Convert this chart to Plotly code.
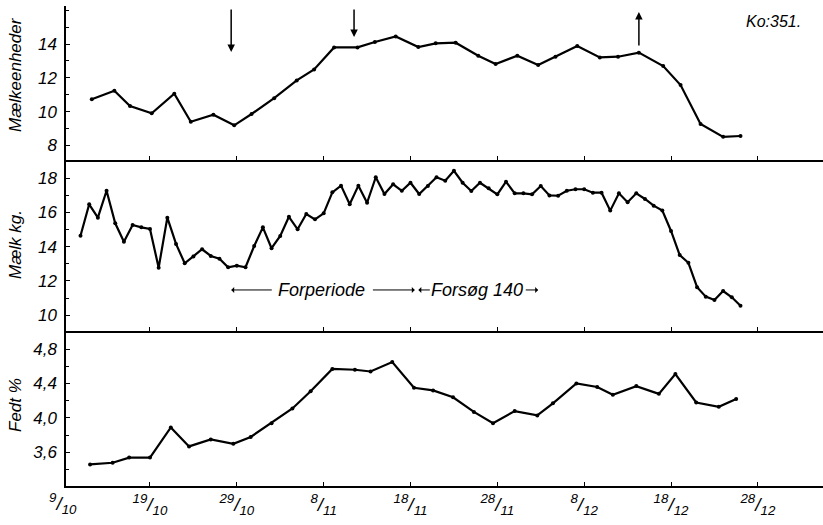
import plotly.graph_objects as go

# ---------------- data ----------------
# x positions are days after 9 October
tick_days = [0, 10, 20, 30, 40, 50, 60, 70, 80]
tick_labels = ["9/10", "19/10", "29/10", "8/11", "18/11", "28/11", "8/12", "18/12", "28/12"]

units_days = [3.3, 5.9, 7.7, 10.2, 12.8, 14.7, 17.3, 19.7, 21.7, 24.3, 26.9, 28.9, 31.2,
              33.9, 35.9, 38.3, 40.9, 42.9, 45.2, 47.8, 49.8, 52.3, 54.7, 56.7, 59.2,
              61.8, 63.9, 66.3, 69.1, 71.1, 73.4, 76.0, 78.0]
units_vals = [10.73, 11.24, 10.33, 9.90, 11.06, 9.40, 9.82, 9.19, 9.86, 10.80, 11.85, 12.50,
              13.80, 13.80, 14.12, 14.45, 13.82, 14.04, 14.08, 13.31, 12.82, 13.31, 12.76,
              13.25, 13.88, 13.21, 13.25, 13.49, 12.70, 11.57, 9.27, 8.51, 8.56]

milk_days = list(range(2, 79))
milk_vals = [14.64, 16.48, 15.70, 17.27, 15.37, 14.29, 15.27, 15.13, 15.04, 12.77, 15.70,
             14.16, 13.03, 13.42, 13.85, 13.46, 13.30, 12.80, 12.89, 12.80, 14.04, 15.13,
             13.91, 14.63, 15.75, 15.02, 15.91,
             15.60, 15.95, 17.18, 17.57, 16.48, 17.57, 16.57, 18.06, 17.08, 17.65, 17.27,
             17.74, 17.08, 17.55, 18.06, 17.86, 18.44, 17.74, 17.26, 17.74, 17.42, 17.06,
             17.80, 17.12, 17.12, 17.06, 17.55, 17.00,
             16.98, 17.27, 17.36, 17.36, 17.16, 17.16, 16.11, 17.12, 16.60, 17.12, 16.79,
             16.40, 16.11, 14.92, 13.51, 13.06, 11.63, 11.08, 10.88, 11.41, 11.04, 10.55]

fat_days = [3.1, 5.7, 7.6, 10.0, 12.4, 14.5, 17.0, 19.6, 21.6, 24.0, 26.4, 28.5, 31.0,
            33.6, 35.4, 37.9, 40.4, 42.6, 44.9, 47.3, 49.5, 52.0, 54.6, 56.4, 59.1,
            61.5, 63.3, 66.0, 68.6, 70.5, 72.9, 75.5, 77.5]
fat_vals = [3.46, 3.48, 3.54, 3.54, 3.89, 3.67, 3.75, 3.70, 3.78, 3.94, 4.11, 4.31, 4.57,
            4.56, 4.54, 4.65, 4.35, 4.32, 4.24, 4.07, 3.94, 4.08, 4.03, 4.17, 4.40, 4.36,
            4.27, 4.37, 4.28, 4.51, 4.18, 4.13, 4.22]

units_ticks = [8, 10, 12, 14]
milk_ticks = [10, 12, 14, 16, 18]
fat_ticks = [3.6, 4.0, 4.4, 4.8]
fat_ticktext = ["3,6", "4,0", "4,4", "4,8"]

# ---------------- figure ----------------
FONT = "Liberation Sans"
line = dict(color="black", width=2.2)
marker = dict(color="black", size=4)

fig = go.Figure()
fig.add_trace(go.Scatter(x=units_days, y=units_vals, mode="lines+markers", line=line,
                         marker=marker, xaxis="x", yaxis="y", showlegend=False))
fig.add_trace(go.Scatter(x=milk_days, y=milk_vals, mode="lines+markers", line=line,
                         marker=marker, xaxis="x2", yaxis="y2", showlegend=False))
fig.add_trace(go.Scatter(x=fat_days, y=fat_vals, mode="lines+markers", line=line,
                         marker=marker, xaxis="x3", yaxis="y3", showlegend=False))


def frac(lbl):
    a, b = lbl.split("/")
    return f"<i><sup>{a}</sup>/<sub>{b}</sub></i>"


xr = [0.33, 87.5]
common_x = dict(range=xr, showgrid=False, zeroline=False, showline=True,
                linecolor="black", linewidth=2, tickvals=tick_days,
                ticks="inside", ticklen=4, tickcolor="black", automargin=False)
common_y = dict(showgrid=False, zeroline=False, showline=True, linecolor="black",
                linewidth=1.5, ticks="inside", ticklen=4, tickcolor="black",
                automargin=False, ticklabelstandoff=4,
                tickfont=dict(family=FONT, size=17, color="black"))

d_bot = (486 - 331) / 480
d_mid = (486 - 160) / 480

fig.update_layout(
    template="none",
    width=823, height=525,
    margin=dict(l=66, r=0, t=6, b=39, pad=0),
    paper_bgcolor="white", plot_bgcolor="white",
    font=dict(family=FONT, color="black"),
    xaxis=dict(**common_x, anchor="y", matches="x3", showticklabels=False),
    xaxis2=dict(**common_x, anchor="y2", matches="x3", showticklabels=False),
    xaxis3=dict(**common_x, anchor="y3",
                ticktext=[frac(t) for t in tick_labels],
                tickfont=dict(family=FONT, size=19, color="black")),
    yaxis=dict(**common_y, domain=[d_mid, 1], range=[7.14, 16.25], anchor="x",
               tickvals=units_ticks, ticktext=[f"<i>{v}</i>" for v in units_ticks],
               minor=dict(dtick=1, ticks="inside", ticklen=3, tickcolor="black")),
    yaxis2=dict(**common_y, domain=[d_bot, d_mid], range=[9.07, 19.07], anchor="x2",
                tickvals=milk_ticks, ticktext=[f"<i>{v}</i>" for v in milk_ticks],
                minor=dict(dtick=1, ticks="inside", ticklen=3, tickcolor="black")),
    yaxis3=dict(**common_y, domain=[0, d_bot], range=[3.21, 5.01], anchor="x3",
                tickvals=fat_ticks, ticktext=[f"<i>{t}</i>" for t in fat_ticktext],
                minor=dict(dtick=0.2, ticks="inside", ticklen=3, tickcolor="black")),
)

anns = []
# first date label lies just left of the plotted range: place it from the axis range
frac0 = (tick_days[0] - xr[0]) / (xr[1] - xr[0])
anns.append(dict(text=frac(tick_labels[0]), xref="paper", yref="paper",
                 x=frac0, y=-0.005, xanchor="center", yanchor="top", showarrow=False,
                 font=dict(family=FONT, size=19, color="black")))

# axis titles
for txt, py in [("Mælkeenheder", 75), ("Mælk kg.", 245), ("Fedt %", 405)]:
    anns.append(dict(text=f"<i>{txt}</i>", xref="paper", yref="paper",
                     x=(15 - 66) / 757, y=(486 - py) / 480, textangle=-90,
                     showarrow=False, font=dict(family=FONT, size=17, color="black"),
                     xanchor="center", yanchor="middle"))
anns.append(dict(text="<i>Ko:351.</i>", xref="paper", yref="paper",
                 x=(773 - 66) / 757, y=(486 - 22) / 480, showarrow=False,
                 xanchor="center", yanchor="middle",
                 font=dict(family=FONT, size=16, color="black")))

# marker arrows in top panel
arrow_style = dict(showarrow=True, arrowhead=2, arrowsize=1, arrowwidth=1.5,
                   arrowcolor="black", text="", xref="x", yref="y", axref="x", ayref="y")
anns.append(dict(**arrow_style, x=19.35, y=13.53, ax=19.35, ay=16.13))
anns.append(dict(**arrow_style, x=33.5, y=14.41, ax=33.5, ay=16.13))
anns.append(dict(**arrow_style, x=66.3, y=15.9, ax=66.3, ay=13.82))

# period arrows in milk panel
ya = 11.47
p_style = dict(showarrow=True, arrowhead=1, arrowsize=1, arrowwidth=1,
               arrowcolor="black", text="", xref="x2", yref="y2", axref="x2", ayref="y2")
anns.append(dict(**p_style, x=19.35, y=ya, ax=24.2, ay=ya))
anns.append(dict(**p_style, x=40.5, y=ya, ax=35.5, ay=ya))
anns.append(dict(**p_style, x=40.9, y=ya, ax=42.4, ay=ya))
anns.append(dict(**p_style, x=54.7, y=ya, ax=53.1, ay=ya))
anns.append(dict(text="<i>Forperiode</i>", x=29.8, y=ya, xref="x2", yref="y2",
                 showarrow=False, font=dict(family=FONT, size=18, color="black")))
anns.append(dict(text="<i>Forsøg 140</i>", x=47.7, y=ya, xref="x2", yref="y2",
                 showarrow=False, font=dict(family=FONT, size=18, color="black")))

fig.update_layout(annotations=anns)
fig.write_html("out.html", config={"displayModeBar": False},
               post_script="document.body.style.margin='0px';document.body.style.padding='0px';")
